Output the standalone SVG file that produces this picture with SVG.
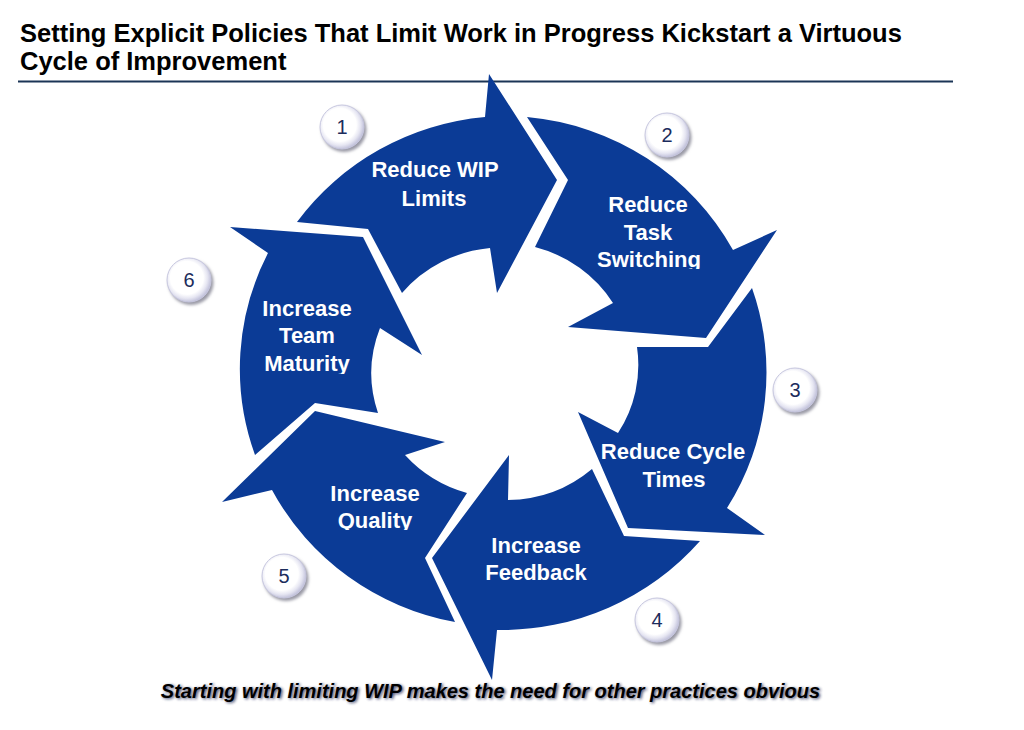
<svg xmlns="http://www.w3.org/2000/svg" width="1024" height="730" viewBox="0 0 1024 730">
<style>
.seg{fill:#0b3b96;}
.lbl{font-family:"Liberation Sans",Arial,sans-serif;font-weight:bold;font-size:22px;fill:#ffffff;text-anchor:middle;}
.num{font-family:"Liberation Sans",Arial,sans-serif;font-size:20px;fill:#1c2c5c;text-anchor:middle;}
.title{font-family:"Liberation Sans",Arial,sans-serif;font-weight:bold;font-size:25.5px;fill:#000000;}
.cap{font-family:"Liberation Sans",Arial,sans-serif;font-weight:bold;font-style:italic;font-size:20px;text-anchor:middle;}
</style>
<defs>
<radialGradient id="badge" cx="45%" cy="45%" r="55%">
<stop offset="0%" stop-color="#ffffff"/>
<stop offset="68%" stop-color="#ffffff"/>
<stop offset="85%" stop-color="#e6e6f2"/>
<stop offset="100%" stop-color="#c4c4dc"/>
</radialGradient>
<filter id="blur" x="-20%" y="-20%" width="140%" height="140%"><feGaussianBlur stdDeviation="1.6"/></filter>
<filter id="capglow" x="-5%" y="-50%" width="110%" height="200%"><feGaussianBlur stdDeviation="1.8"/></filter>
<g id="badgeShape">
<circle cx="2" cy="2.5" r="22.5" fill="#9a9aa6" filter="url(#blur)"/>
<circle cx="0" cy="0" r="22" fill="url(#badge)" stroke="#c8c8e0" stroke-width="1"/>
</g>
<clipPath id="clipSw"><rect x="580" y="250" width="140" height="19"/></clipPath>
<clipPath id="clipMa"><rect x="250" y="350" width="120" height="24"/></clipPath>
<clipPath id="clipQu"><rect x="320" y="505" width="120" height="25"/></clipPath>
</defs>
<rect width="1024" height="730" fill="#ffffff"/>
<g id="title">
<text class="title" x="20" y="42">Setting Explicit Policies That Limit Work in Progress Kickstart a Virtuous</text>
<text class="title" x="20" y="70">Cycle of Improvement</text>
<line x1="18" y1="81.5" x2="953" y2="81.5" stroke="#1b3556" stroke-width="2"/>
</g>
<g id="node-1">
<path class="seg" d="M402,293 L368,229 L297,222 A262,257 0 0 1 485,117 L489,74 L557,180 L497,293 L490,248 A131,127 0 0 0 402,293 Z"/>
<text class="lbl" x="435" y="177">Reduce WIP</text>
<text class="lbl" x="434" y="206">Limits</text>
<use href="#badgeShape" x="342" y="127"/>
<text class="num" x="342" y="134">1</text>
</g>
<g id="node-2">
<path class="seg" d="M535,247 L568,180 L527,117 A262,257 0 0 1 733,250 L777,230 L706,338 L568,327 L613,303 A131,127 0 0 0 535,247 Z"/>
<text class="lbl" x="648" y="212">Reduce</text>
<text class="lbl" x="648" y="240">Task</text>
<text class="lbl" x="649" y="267" clip-path="url(#clipSw)">Switching</text>
<use href="#badgeShape" x="667" y="135"/>
<text class="num" x="667" y="142">2</text>
</g>
<g id="node-3">
<path class="seg" d="M637,347 L708,347 L752,288 A262,257 0 0 1 727,508 L765,535 L628,528 L578,412 L618,433 A131,127 0 0 0 637,347 Z"/>
<text class="lbl" x="673" y="459">Reduce Cycle</text>
<text class="lbl" x="674" y="487">Times</text>
<use href="#badgeShape" x="795" y="390"/>
<text class="num" x="795" y="397">3</text>
</g>
<g id="node-4">
<path class="seg" d="M592,469 L624,536 L700,541 A262,257 0 0 1 497,630 L492,680 L432,558 L509,455 L508,500 A131,127 0 0 0 592,469 Z"/>
<text class="lbl" x="536" y="553">Increase</text>
<text class="lbl" x="536" y="580">Feedback</text>
<use href="#badgeShape" x="657" y="620"/>
<text class="num" x="657" y="627">4</text>
</g>
<g id="node-5">
<path class="seg" d="M467,493 L425,558 L455,622 A262,257 0 0 1 272,490 L222,502 L315,411 L445,442 L405,455 A131,127 0 0 0 467,493 Z"/>
<text class="lbl" x="375" y="501">Increase</text>
<text class="lbl" x="375" y="528" clip-path="url(#clipQu)">Quality</text>
<use href="#badgeShape" x="284" y="576"/>
<text class="num" x="284" y="583">5</text>
</g>
<g id="node-6">
<path class="seg" d="M378,413 L315,403 L255,455 A262,257 0 0 1 268,253 L230,227 L363,237 L422,355 L380,328 A131,127 0 0 0 378,413 Z"/>
<text class="lbl" x="307" y="316">Increase</text>
<text class="lbl" x="307" y="343">Team</text>
<text class="lbl" x="307" y="371" clip-path="url(#clipMa)">Maturity</text>
<use href="#badgeShape" x="189" y="280"/>
<text class="num" x="189" y="287">6</text>
</g>
<g id="connectors"></g>
<g id="caption">
<text class="cap" x="492" y="699" fill="#1a2250" opacity="0.85" filter="url(#capglow)">Starting with limiting WIP makes the need for other practices obvious</text>
<text class="cap" x="490.5" y="698" fill="#000000">Starting with limiting WIP makes the need for other practices obvious</text>
</g>
</svg>
